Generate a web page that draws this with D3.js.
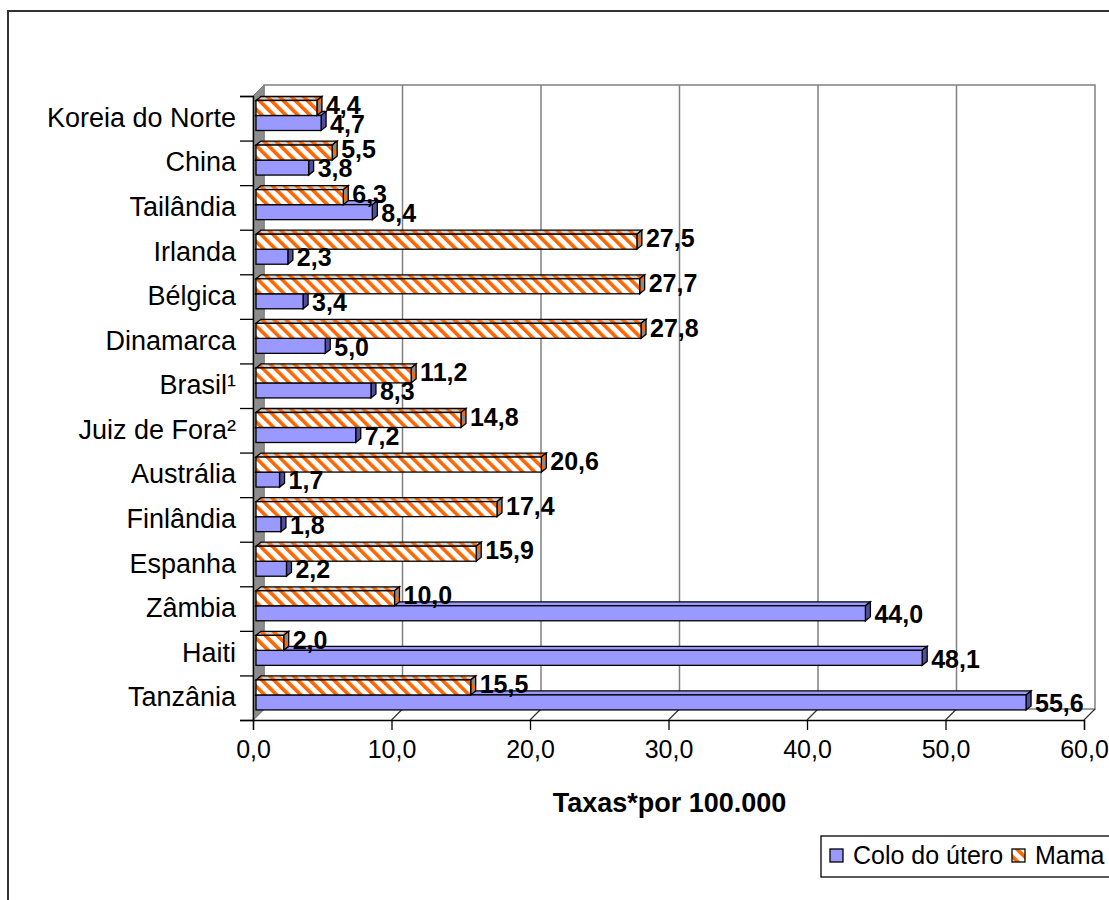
<!DOCTYPE html>
<html>
<head>
<meta charset="utf-8">
<script src="https://cdn.jsdelivr.net/npm/d3@7"></script>
<style>
  body { margin: 0; background: #fff; }
  svg { display: block; font-family: "Liberation Sans", Arial, sans-serif; }
</style>
</head>
<body>
<svg id="chart" width="1109" height="900"></svg>
<script>
// data
var categories = ["Koreia do Norte", "China", "Tailândia", "Irlanda", "Bélgica", "Dinamarca", "Brasil¹",
                  "Juiz de Fora²", "Austrália", "Finlândia", "Espanha", "Zâmbia", "Haiti", "Tanzânia"];
var coloValues = [4.7, 3.8, 8.4, 2.3, 3.4, 5.0, 8.3, 7.2, 1.7, 1.8, 2.2, 44.0, 48.1, 55.6];
var mamaValues = [4.4, 5.5, 6.3, 27.5, 27.7, 27.8, 11.2, 14.8, 20.6, 17.4, 15.9, 10.0, 2.0, 15.5];
var xTicks = [0, 10, 20, 30, 40, 50, 60];
var seriesNames = ["Colo do útero", "Mama"];
var axisTitle = "Taxas*por 100.000";

var svg = d3.select("#chart");
var fmt = function(v) { return d3.format(".1f")(v).replace(".", ","); };

// wall depth and bar depth
var DX = 11, DY = 11;
var bdx = 5, bdy = 4;

var x = d3.scaleLinear().domain([0, 60]).range([253, 1084]);
var xBar = function(v) { return x(v) + 3; };
var y = d3.scaleBand().domain(categories).range([96, 720]);
var yIdx = d3.scaleLinear().domain([0, categories.length]).range([96, 720]);
var yTop = 96, yBottom = 720;

//patterns for the hatched series
var defs = svg.append("defs");
function hatch(id, bg) {
  var p = defs.append("pattern")
    .attr("id", id)
    .attr("patternUnits", "userSpaceOnUse")
    .attr("width", 8.5).attr("height", 8.5)
    .attr("patternTransform", "rotate(-45)");
  p.append("rect").attr("width", 8.5).attr("height", 8.5).attr("fill", bg);
  p.append("rect").attr("width", 3.6).attr("height", 8.5).attr("fill", "#FF6600");
}
hatch("hatchFront", "#ffffff");
hatch("hatchTop", "#d0d0d0");
hatch("hatchSide", "#8a8a8a");

//outer chart border
svg.append("rect")
  .attr("x", 8).attr("y", 11)
  .attr("width", 1300).attr("height", 1000)
  .attr("fill", "none")
  .attr("stroke", "#333")
  .attr("stroke-width", 2);

//back wall, left wall, floor
var wall = svg.append("g");
wall.append("rect")
  .attr("x", x(0) + DX).attr("y", yTop - DY)
  .attr("width", x(60) - x(0)).attr("height", yBottom - yTop)
  .attr("fill", "#fff")
  .attr("stroke", "#808080")
  .attr("stroke-width", 1.5);

wall.selectAll(".grid")
  .data(xTicks.slice(1, -1))
  .enter().append("line")
  .attr("x1", d => x(d) + DX).attr("x2", d => x(d) + DX)
  .attr("y1", yTop - DY).attr("y2", yBottom - DY)
  .attr("stroke", "#808080")
  .attr("stroke-width", 1.5);

wall.selectAll(".floorgrid")
  .data(xTicks)
  .enter().append("line")
  .attr("x1", d => x(d)).attr("x2", d => x(d) + DX)
  .attr("y1", yBottom).attr("y2", yBottom - DY)
  .attr("stroke", "#333")
  .attr("stroke-width", 1.2);

wall.append("path")
  .attr("d", "M" + x(0) + "," + yTop + "L" + (x(0) + DX) + "," + (yTop - DY) +
             "L" + (x(0) + DX) + "," + (yBottom - DY) + "L" + x(0) + "," + yBottom + "Z")
  .attr("fill", "#8c8c8c")
  .attr("stroke", "#808080");

//axes
svg.append("g")
  .attr("transform", "translate(0," + yBottom + ")")
  .call(d3.axisBottom(x).tickValues(xTicks).tickSize(10).tickPadding(10).tickFormat(fmt))
  .call(g => g.selectAll("text").attr("font-size", 25).attr("fill", "#000").attr("font-family", "Liberation Sans, Arial, sans-serif"))
  .call(g => g.selectAll("line, path").attr("stroke", "#000").attr("stroke-width", 1.3));

svg.append("g")
  .attr("transform", "translate(" + x(0) + ",0)")
  .call(d3.axisLeft(yIdx).tickValues(d3.range(categories.length + 1)).tickSize(13).tickFormat(""))
  .call(g => g.selectAll("line, path").attr("stroke", "#000").attr("stroke-width", 1.3));

svg.append("g")
  .attr("transform", "translate(" + (x(0) - 17) + ",0)")
  .call(d3.axisLeft(y).tickSize(0).tickPadding(0))
  .call(g => g.select(".domain").remove())
  .call(g => g.selectAll("text").attr("font-size", 27).attr("fill", "#000").attr("font-family", "Liberation Sans, Arial, sans-serif"));

//3d bar
function bar3d(g, v, top, h, front, topFill, side) {
  var x0 = xBar(0), x1 = xBar(v);
  g.append("path")
    .attr("d", "M" + x0 + "," + top + "L" + (x0 + bdx) + "," + (top - bdy) +
               "L" + (x1 + bdx) + "," + (top - bdy) + "L" + x1 + "," + top + "Z")
    .attr("fill", topFill).attr("stroke", "#000").attr("stroke-width", 1.3);
  g.append("path")
    .attr("d", "M" + x1 + "," + top + "L" + (x1 + bdx) + "," + (top - bdy) +
               "L" + (x1 + bdx) + "," + (top - bdy + h) + "L" + x1 + "," + (top + h) + "Z")
    .attr("fill", side).attr("stroke", "#000").attr("stroke-width", 1.3);
  g.append("rect")
    .attr("x", x0).attr("y", top)
    .attr("width", x1 - x0).attr("height", h)
    .attr("fill", front).attr("stroke", "#000").attr("stroke-width", 1.3);
}

var barH = 15;
var rows = categories.map(function(c, i) {
  return { cat: c, colo: coloValues[i], mama: mamaValues[i] };
});

var bars = svg.append("g");
rows.forEach(function(d) {
  var b = y(d.cat) + 4.5;
  var g = bars.append("g");
  bar3d(g, d.colo, b + barH, barH, "#9999FF", "#9999FF", "#50509a");
  bar3d(g, d.mama, b, barH, "url(#hatchFront)", "url(#hatchTop)", "url(#hatchSide)");
});

//value labels
var labels = svg.append("g")
  .attr("font-size", 25)
  .attr("font-weight", "bold");
rows.forEach(function(d) {
  var b = y(d.cat) + 4.5;
  labels.append("text")
    .attr("x", xBar(d.mama) + bdx + 4)
    .attr("y", b + barH / 2 - 3)
    .attr("dy", "0.35em")
    .text(fmt(d.mama));
  labels.append("text")
    .attr("x", xBar(d.colo) + bdx + 4)
    .attr("y", b + barH * 1.5 + 1)
    .attr("dy", "0.35em")
    .text(fmt(d.colo));
});

//axis title
svg.append("text")
  .attr("x", (x(0) + x(60)) / 2 + 1)
  .attr("y", 812)
  .attr("text-anchor", "middle")
  .attr("font-size", 27)
  .attr("font-weight", "bold")
  .text(axisTitle);

//legend
var legend = svg.append("g").attr("transform", "translate(821,836)");
legend.append("rect")
  .attr("width", 320).attr("height", 41)
  .attr("fill", "#fff").attr("stroke", "#000").attr("stroke-width", 1.3);
var swatchFill = ["#9999FF", "url(#hatchFront)"];
var legX = [9, 191];
seriesNames.forEach(function(name, i) {
  legend.append("rect")
    .attr("x", legX[i]).attr("y", 13)
    .attr("width", 13).attr("height", 13)
    .attr("fill", swatchFill[i])
    .attr("stroke", "#000").attr("stroke-width", 1.3);
  legend.append("text")
    .attr("x", legX[i] + 23).attr("y", 28)
    .attr("font-size", 25)
    .text(name);
});
</script>
</body>
</html>
